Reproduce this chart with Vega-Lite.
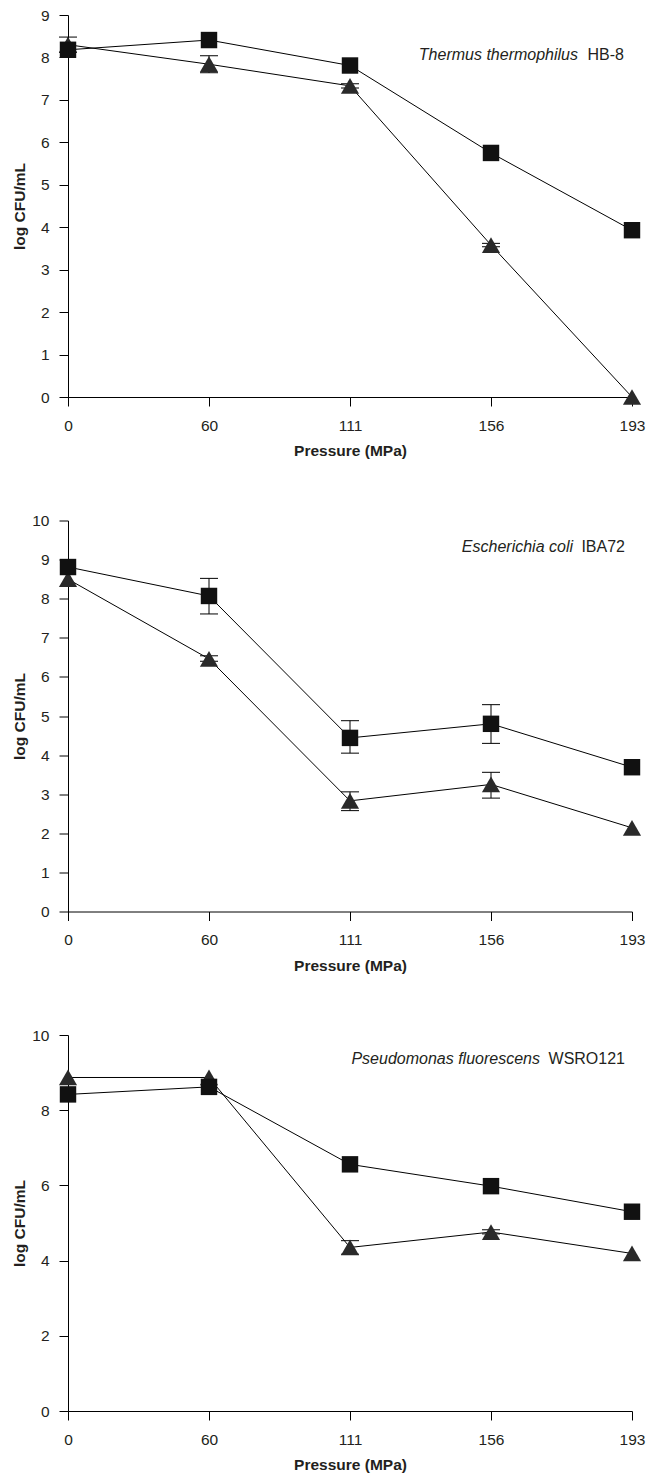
{
  "$schema": "https://vega.github.io/schema/vega-lite/v6.json",
  "background": "white",
  "padding": {"left": 12, "top": 8, "right": 5, "bottom": 2},
  "bounds": "flush",
  "align": "none",
  "spacing": 123.5,
  "config": {
    "view": {"stroke": null},
    "font": "Liberation Sans",
    "axis": {
      "grid": false,
      "domainColor": "#000",
      "tickColor": "#000",
      "tickSize": 9,
      "domainWidth": 1,
      "tickWidth": 1,
      "labelFont": "Liberation Sans",
      "labelFontSize": 15.5,
      "labelColor": "#231f20",
      "titleFont": "Liberation Sans",
      "titleFontSize": 15.5,
      "titleFontWeight": "bold",
      "titleColor": "#231f20"
    },
    "axisX": {"labelPadding": 12, "titlePadding": 10, "labelAngle": 0},
    "axisY": {"labelPadding": 10, "titleX": -41}
  },
  "datasets": {
    "pts": [
      {"panel": "T", "series": "series 1", "pressure": 0, "logcfu": 8.18},
      {"panel": "T", "series": "series 1", "pressure": 60, "logcfu": 8.41},
      {"panel": "T", "series": "series 1", "pressure": 111, "logcfu": 7.81},
      {"panel": "T", "series": "series 1", "pressure": 156, "logcfu": 5.75},
      {"panel": "T", "series": "series 1", "pressure": 193, "logcfu": 3.93},
      {"panel": "T", "series": "series 2", "pressure": 0, "logcfu": 8.3, "lo": 8.12, "hi": 8.48},
      {"panel": "T", "series": "series 2", "pressure": 60, "logcfu": 7.84, "lo": 7.64, "hi": 8.04},
      {"panel": "T", "series": "series 2", "pressure": 111, "logcfu": 7.33, "lo": 7.28, "hi": 7.38},
      {"panel": "T", "series": "series 2", "pressure": 156, "logcfu": 3.58, "lo": 3.54, "hi": 3.62},
      {"panel": "T", "series": "series 2", "pressure": 193, "logcfu": 0.0},
      {"panel": "E", "series": "series 1", "pressure": 0, "logcfu": 8.81},
      {"panel": "E", "series": "series 1", "pressure": 60, "logcfu": 8.07, "lo": 7.61, "hi": 8.52},
      {"panel": "E", "series": "series 1", "pressure": 111, "logcfu": 4.44, "lo": 4.05, "hi": 4.88},
      {"panel": "E", "series": "series 1", "pressure": 156, "logcfu": 4.8, "lo": 4.3, "hi": 5.29},
      {"panel": "E", "series": "series 1", "pressure": 193, "logcfu": 3.69},
      {"panel": "E", "series": "series 2", "pressure": 0, "logcfu": 8.5},
      {"panel": "E", "series": "series 2", "pressure": 60, "logcfu": 6.46, "lo": 6.4, "hi": 6.54},
      {"panel": "E", "series": "series 2", "pressure": 111, "logcfu": 2.83, "lo": 2.58, "hi": 3.06},
      {"panel": "E", "series": "series 2", "pressure": 156, "logcfu": 3.25, "lo": 2.9, "hi": 3.56},
      {"panel": "E", "series": "series 2", "pressure": 193, "logcfu": 2.14},
      {"panel": "P", "series": "series 1", "pressure": 0, "logcfu": 8.42},
      {"panel": "P", "series": "series 1", "pressure": 60, "logcfu": 8.62},
      {"panel": "P", "series": "series 1", "pressure": 111, "logcfu": 6.56},
      {"panel": "P", "series": "series 1", "pressure": 156, "logcfu": 5.98},
      {"panel": "P", "series": "series 1", "pressure": 193, "logcfu": 5.3},
      {"panel": "P", "series": "series 2", "pressure": 0, "logcfu": 8.87},
      {"panel": "P", "series": "series 2", "pressure": 60, "logcfu": 8.87},
      {"panel": "P", "series": "series 2", "pressure": 111, "logcfu": 4.35, "lo": 4.17, "hi": 4.53},
      {"panel": "P", "series": "series 2", "pressure": 156, "logcfu": 4.76, "lo": 4.71, "hi": 4.82},
      {"panel": "P", "series": "series 2", "pressure": 193, "logcfu": 4.19}
    ],
    "labels": [
      {"panel": "T", "pressure": 193, "ypos": 7.95, "species": "Thermus thermophilus", "strain": "HB-8"},
      {"panel": "E", "pressure": 193, "ypos": 9.19, "species": "Escherichia coli", "strain": "IBA72"},
      {"panel": "P", "pressure": 193, "ypos": 9.22, "species": "Pseudomonas fluorescens", "strain": "WSRO121"}
    ]
  },
  "vconcat": [
    {
      "width": 564,
      "height": 382,
      "data": {"name": "pts"},
      "encoding": {
        "x": {"field": "pressure", "type": "ordinal", "sort": null, "scale": {"type": "point", "padding": 0, "domain": [0, 60, 111, 156, 193]}, "axis": {"title": "Pressure (MPa)"}}
      },
      "layer": [
        {"transform": [{"filter": "datum.panel == 'T' && datum.lo != null"}], "mark": {"type": "rule", "color": "#000", "strokeWidth": 1}, "encoding": {"y": {"field": "lo", "type": "quantitative", "scale": {"domain": [0, 9]}, "axis": {"title": "log CFU/mL", "values": [0,1,2,3,4,5,6,7,8,9]}}, "y2": {"field": "hi"}}},
        {"transform": [{"filter": "datum.panel == 'T' && datum.lo != null"}], "mark": {"type": "tick", "color": "#000", "size": 18, "thickness": 1, "opacity": 1}, "encoding": {"y": {"field": "lo", "type": "quantitative", "scale": {"domain": [0, 9]}, "axis": {"title": "log CFU/mL", "values": [0,1,2,3,4,5,6,7,8,9]}}}},
        {"transform": [{"filter": "datum.panel == 'T' && datum.lo != null"}], "mark": {"type": "tick", "color": "#000", "size": 18, "thickness": 1, "opacity": 1}, "encoding": {"y": {"field": "hi", "type": "quantitative", "scale": {"domain": [0, 9]}, "axis": {"title": "log CFU/mL", "values": [0,1,2,3,4,5,6,7,8,9]}}}},
        {"transform": [{"filter": "datum.panel == 'T'"}], "mark": {"type": "line", "color": "#000", "strokeWidth": 1}, "encoding": {"detail": {"field": "series"}, "y": {"field": "logcfu", "type": "quantitative", "scale": {"domain": [0, 9]}, "axis": {"title": "log CFU/mL", "values": [0,1,2,3,4,5,6,7,8,9]}}}},
        {"transform": [{"filter": "datum.panel == 'T' && datum.series == 'series 2'"}], "mark": {"type": "point", "filled": true, "shape": "triangle-up", "size": 330, "color": "#2a2a2a", "opacity": 1, "strokeWidth": 0}, "encoding": {"y": {"field": "logcfu", "type": "quantitative", "scale": {"domain": [0, 9]}, "axis": {"title": "log CFU/mL", "values": [0,1,2,3,4,5,6,7,8,9]}}}},
        {"transform": [{"filter": "datum.panel == 'T' && datum.series == 'series 1'"}], "mark": {"type": "point", "filled": true, "shape": "square", "size": 270, "color": "#111", "opacity": 1, "strokeWidth": 0}, "encoding": {"y": {"field": "logcfu", "type": "quantitative", "scale": {"domain": [0, 9]}, "axis": {"title": "log CFU/mL", "values": [0,1,2,3,4,5,6,7,8,9]}}}},
        {"data": {"name": "labels"}, "transform": [{"filter": "datum.panel == 'T'"}], "mark": {"type": "text", "align": "right", "baseline": "alphabetic", "dx": -54, "fontSize": 16, "fontStyle": "italic", "color": "#231f20"}, "encoding": {"text": {"field": "species"}, "y": {"field": "ypos", "type": "quantitative", "scale": {"domain": [0, 9]}, "axis": {"title": "log CFU/mL", "values": [0,1,2,3,4,5,6,7,8,9]}}}},
        {"data": {"name": "labels"}, "transform": [{"filter": "datum.panel == 'T'"}], "mark": {"type": "text", "align": "right", "baseline": "alphabetic", "dx": -8, "fontSize": 16, "color": "#231f20"}, "encoding": {"text": {"field": "strain"}, "y": {"field": "ypos", "type": "quantitative", "scale": {"domain": [0, 9]}, "axis": {"title": "log CFU/mL", "values": [0,1,2,3,4,5,6,7,8,9]}}}}
      ]
    },
    {
      "width": 564,
      "height": 391,
      "data": {"name": "pts"},
      "encoding": {
        "x": {"field": "pressure", "type": "ordinal", "sort": null, "scale": {"type": "point", "padding": 0, "domain": [0, 60, 111, 156, 193]}, "axis": {"title": "Pressure (MPa)"}}
      },
      "layer": [
        {"transform": [{"filter": "datum.panel == 'E' && datum.lo != null"}], "mark": {"type": "rule", "color": "#000", "strokeWidth": 1}, "encoding": {"y": {"field": "lo", "type": "quantitative", "scale": {"domain": [0, 10]}, "axis": {"title": "log CFU/mL", "values": [0,1,2,3,4,5,6,7,8,9,10]}}, "y2": {"field": "hi"}}},
        {"transform": [{"filter": "datum.panel == 'E' && datum.lo != null"}], "mark": {"type": "tick", "color": "#000", "size": 18, "thickness": 1, "opacity": 1}, "encoding": {"y": {"field": "lo", "type": "quantitative", "scale": {"domain": [0, 10]}, "axis": {"title": "log CFU/mL", "values": [0,1,2,3,4,5,6,7,8,9,10]}}}},
        {"transform": [{"filter": "datum.panel == 'E' && datum.lo != null"}], "mark": {"type": "tick", "color": "#000", "size": 18, "thickness": 1, "opacity": 1}, "encoding": {"y": {"field": "hi", "type": "quantitative", "scale": {"domain": [0, 10]}, "axis": {"title": "log CFU/mL", "values": [0,1,2,3,4,5,6,7,8,9,10]}}}},
        {"transform": [{"filter": "datum.panel == 'E'"}], "mark": {"type": "line", "color": "#000", "strokeWidth": 1}, "encoding": {"detail": {"field": "series"}, "y": {"field": "logcfu", "type": "quantitative", "scale": {"domain": [0, 10]}, "axis": {"title": "log CFU/mL", "values": [0,1,2,3,4,5,6,7,8,9,10]}}}},
        {"transform": [{"filter": "datum.panel == 'E' && datum.series == 'series 2'"}], "mark": {"type": "point", "filled": true, "shape": "triangle-up", "size": 330, "color": "#2a2a2a", "opacity": 1, "strokeWidth": 0}, "encoding": {"y": {"field": "logcfu", "type": "quantitative", "scale": {"domain": [0, 10]}, "axis": {"title": "log CFU/mL", "values": [0,1,2,3,4,5,6,7,8,9,10]}}}},
        {"transform": [{"filter": "datum.panel == 'E' && datum.series == 'series 1'"}], "mark": {"type": "point", "filled": true, "shape": "square", "size": 270, "color": "#111", "opacity": 1, "strokeWidth": 0}, "encoding": {"y": {"field": "logcfu", "type": "quantitative", "scale": {"domain": [0, 10]}, "axis": {"title": "log CFU/mL", "values": [0,1,2,3,4,5,6,7,8,9,10]}}}},
        {"data": {"name": "labels"}, "transform": [{"filter": "datum.panel == 'E'"}], "mark": {"type": "text", "align": "right", "baseline": "alphabetic", "dx": -59, "fontSize": 16, "fontStyle": "italic", "color": "#231f20"}, "encoding": {"text": {"field": "species"}, "y": {"field": "ypos", "type": "quantitative", "scale": {"domain": [0, 10]}, "axis": {"title": "log CFU/mL", "values": [0,1,2,3,4,5,6,7,8,9,10]}}}},
        {"data": {"name": "labels"}, "transform": [{"filter": "datum.panel == 'E'"}], "mark": {"type": "text", "align": "right", "baseline": "alphabetic", "dx": -7, "fontSize": 16, "color": "#231f20"}, "encoding": {"text": {"field": "strain"}, "y": {"field": "ypos", "type": "quantitative", "scale": {"domain": [0, 10]}, "axis": {"title": "log CFU/mL", "values": [0,1,2,3,4,5,6,7,8,9,10]}}}}
      ]
    },
    {
      "width": 564,
      "height": 376,
      "data": {"name": "pts"},
      "encoding": {
        "x": {"field": "pressure", "type": "ordinal", "sort": null, "scale": {"type": "point", "padding": 0, "domain": [0, 60, 111, 156, 193]}, "axis": {"title": "Pressure (MPa)"}}
      },
      "layer": [
        {"transform": [{"filter": "datum.panel == 'P' && datum.lo != null"}], "mark": {"type": "rule", "color": "#000", "strokeWidth": 1}, "encoding": {"y": {"field": "lo", "type": "quantitative", "scale": {"domain": [0, 10]}, "axis": {"title": "log CFU/mL", "values": [0,2,4,6,8,10]}}, "y2": {"field": "hi"}}},
        {"transform": [{"filter": "datum.panel == 'P' && datum.lo != null"}], "mark": {"type": "tick", "color": "#000", "size": 18, "thickness": 1, "opacity": 1}, "encoding": {"y": {"field": "lo", "type": "quantitative", "scale": {"domain": [0, 10]}, "axis": {"title": "log CFU/mL", "values": [0,2,4,6,8,10]}}}},
        {"transform": [{"filter": "datum.panel == 'P' && datum.lo != null"}], "mark": {"type": "tick", "color": "#000", "size": 18, "thickness": 1, "opacity": 1}, "encoding": {"y": {"field": "hi", "type": "quantitative", "scale": {"domain": [0, 10]}, "axis": {"title": "log CFU/mL", "values": [0,2,4,6,8,10]}}}},
        {"transform": [{"filter": "datum.panel == 'P'"}], "mark": {"type": "line", "color": "#000", "strokeWidth": 1}, "encoding": {"detail": {"field": "series"}, "y": {"field": "logcfu", "type": "quantitative", "scale": {"domain": [0, 10]}, "axis": {"title": "log CFU/mL", "values": [0,2,4,6,8,10]}}}},
        {"transform": [{"filter": "datum.panel == 'P' && datum.series == 'series 2'"}], "mark": {"type": "point", "filled": true, "shape": "triangle-up", "size": 330, "color": "#2a2a2a", "opacity": 1, "strokeWidth": 0}, "encoding": {"y": {"field": "logcfu", "type": "quantitative", "scale": {"domain": [0, 10]}, "axis": {"title": "log CFU/mL", "values": [0,2,4,6,8,10]}}}},
        {"transform": [{"filter": "datum.panel == 'P' && datum.series == 'series 1'"}], "mark": {"type": "point", "filled": true, "shape": "square", "size": 270, "color": "#111", "opacity": 1, "strokeWidth": 0}, "encoding": {"y": {"field": "logcfu", "type": "quantitative", "scale": {"domain": [0, 10]}, "axis": {"title": "log CFU/mL", "values": [0,2,4,6,8,10]}}}},
        {"data": {"name": "labels"}, "transform": [{"filter": "datum.panel == 'P'"}], "mark": {"type": "text", "align": "right", "baseline": "alphabetic", "dx": -92, "fontSize": 16, "fontStyle": "italic", "color": "#231f20"}, "encoding": {"text": {"field": "species"}, "y": {"field": "ypos", "type": "quantitative", "scale": {"domain": [0, 10]}, "axis": {"title": "log CFU/mL", "values": [0,2,4,6,8,10]}}}},
        {"data": {"name": "labels"}, "transform": [{"filter": "datum.panel == 'P'"}], "mark": {"type": "text", "align": "right", "baseline": "alphabetic", "dx": -7, "fontSize": 16, "color": "#231f20"}, "encoding": {"text": {"field": "strain"}, "y": {"field": "ypos", "type": "quantitative", "scale": {"domain": [0, 10]}, "axis": {"title": "log CFU/mL", "values": [0,2,4,6,8,10]}}}}
      ]
    }
  ]
}
